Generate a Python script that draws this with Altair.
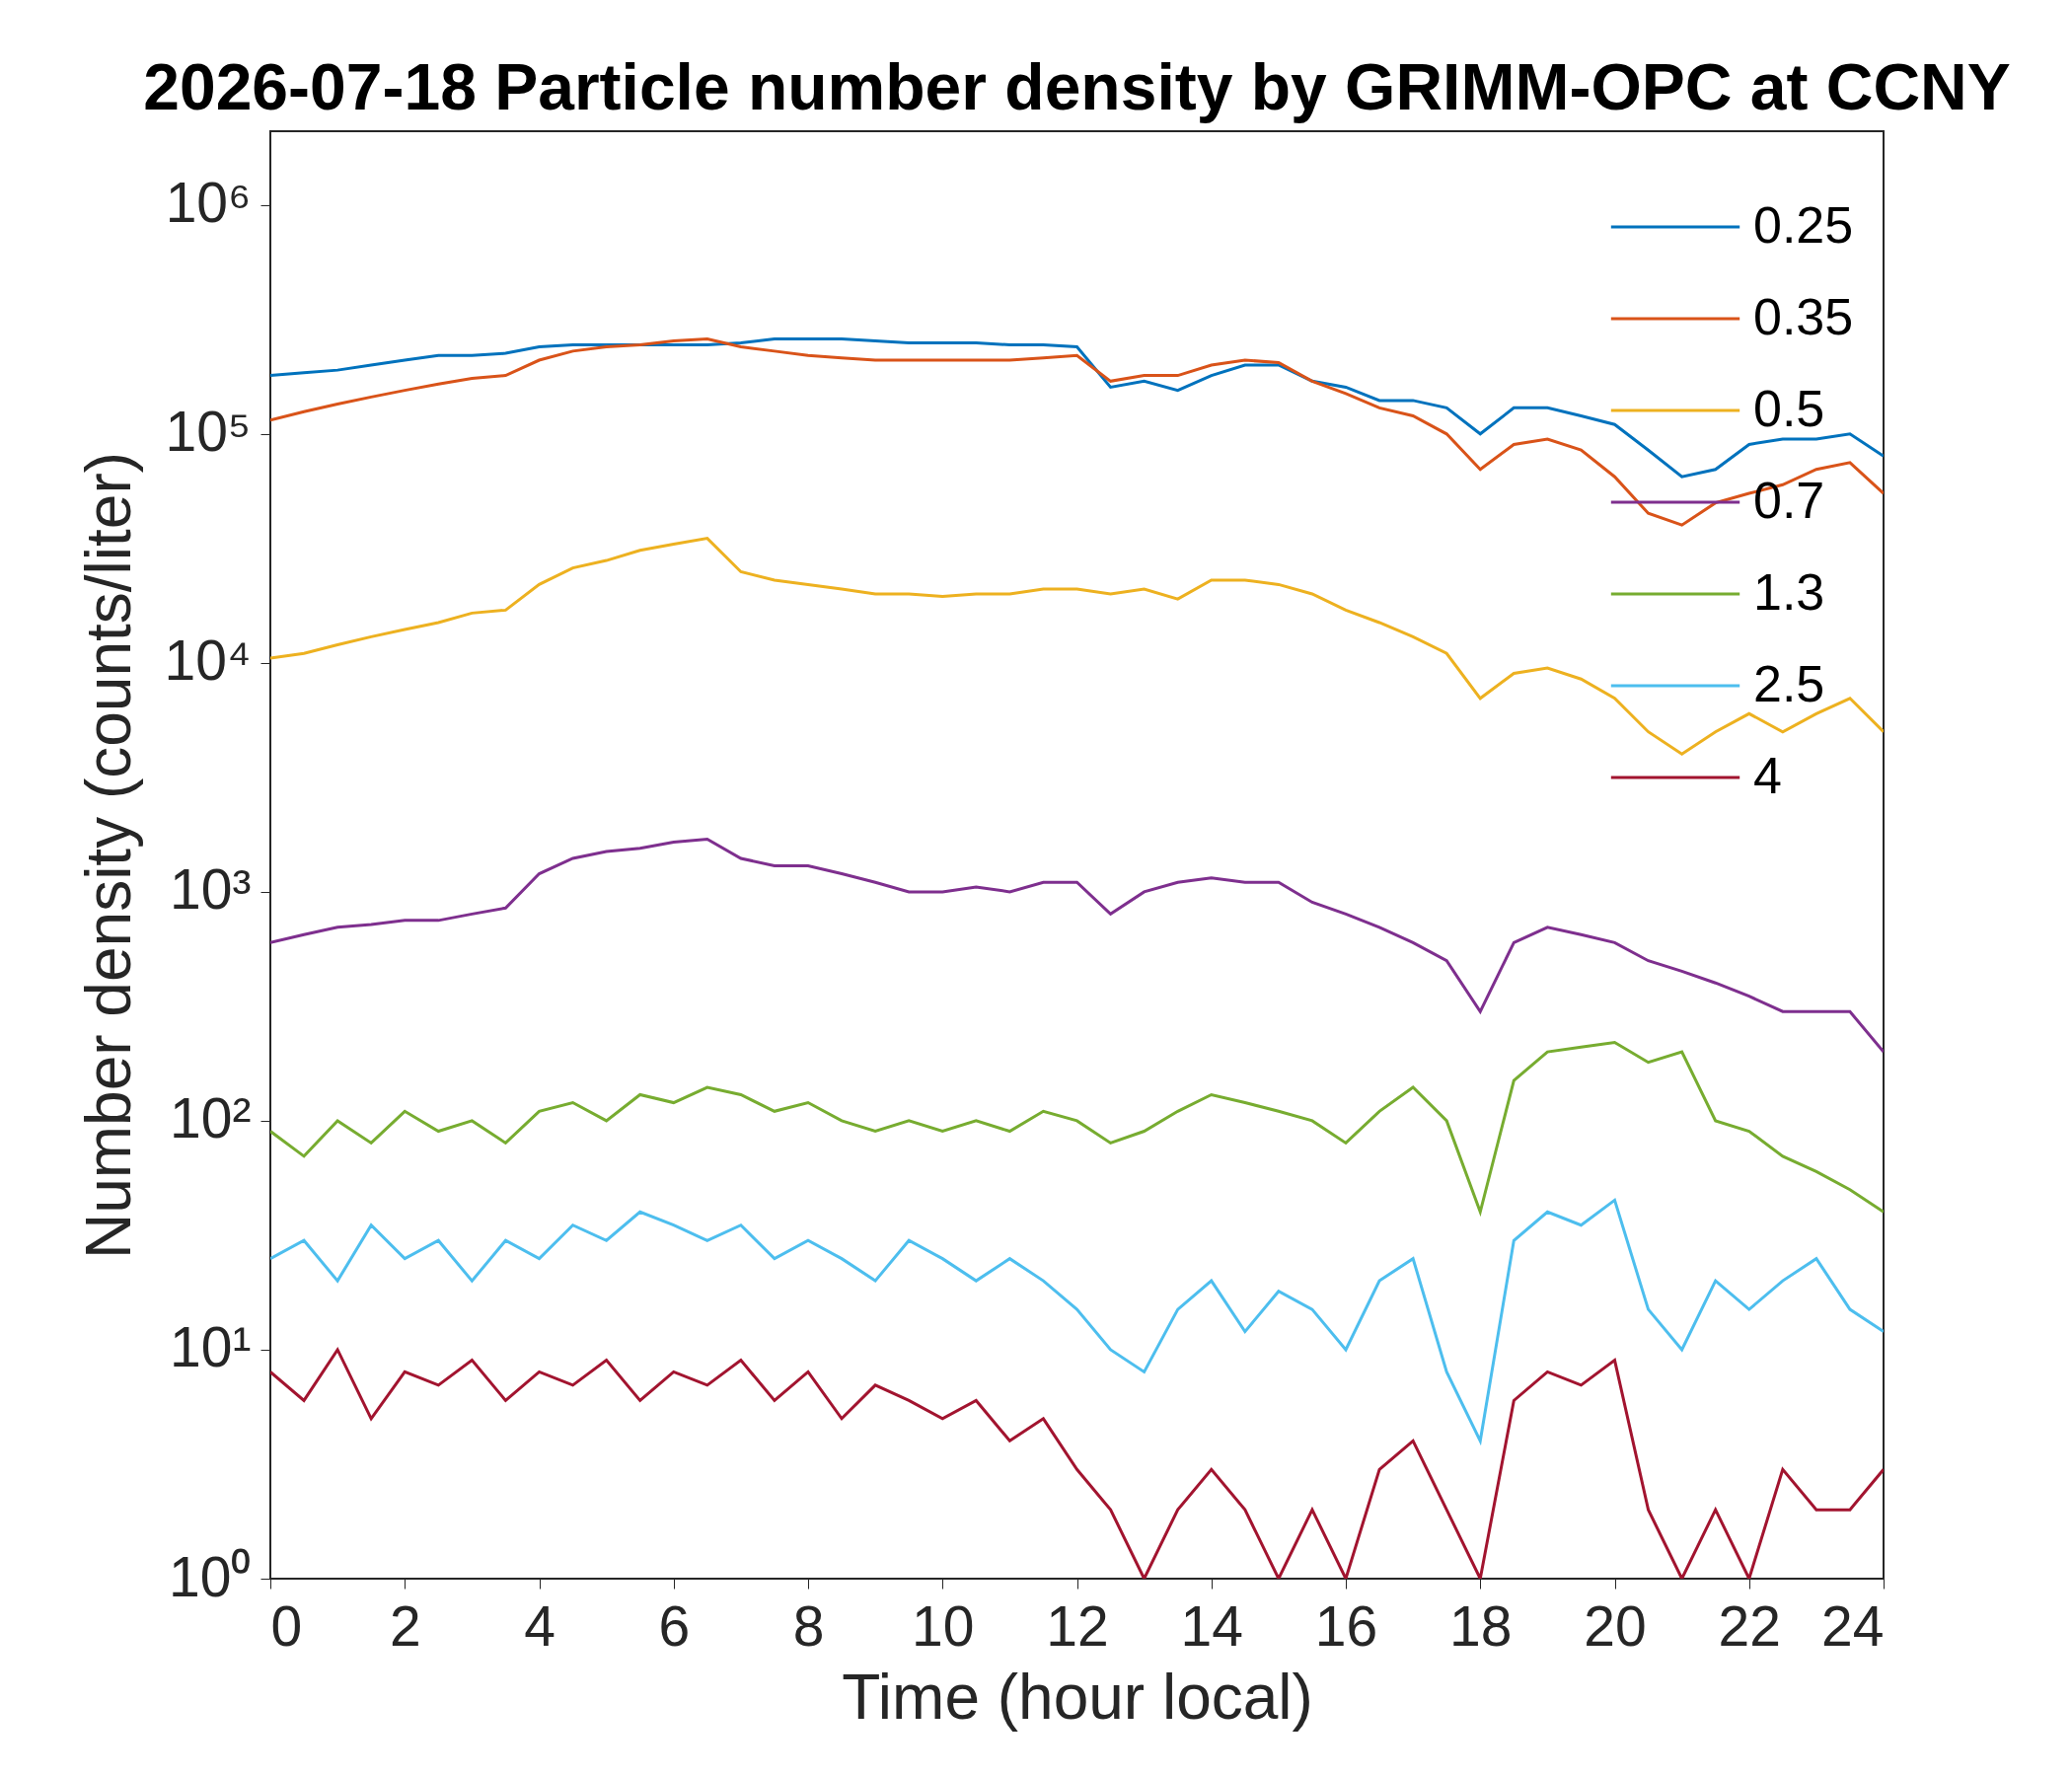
import altair as alt
import pandas as pd

hours = [i * 0.5 for i in range(49)]
labels = ["0.25", "0.35", "0.5", "0.7", "1.3", "2.5", "4"]
colors = ["#0072BD", "#D95319", "#EDB120", "#7E2F8E", "#77AC30", "#4DBEEE", "#A2142F"]

s025 = [x * 1e5 for x in [1.8,1.85,1.9,2.0,2.1,2.2,2.2,2.25,2.4,2.45,2.45,2.45,2.45,2.45,2.5,2.6,2.6,2.6,2.55,2.5,2.5,2.5,2.45,2.45,2.4,1.6,1.7,1.55,1.8,2.0,2.0,1.7,1.6,1.4,1.4,1.3,1.0,1.3,1.3,1.2,1.1,0.85,0.65,0.7,0.9,0.95,0.95,1.0,0.8]]
s035 = [x * 1e5 for x in [1.15,1.25,1.35,1.45,1.55,1.65,1.75,1.8,2.1,2.3,2.4,2.45,2.55,2.6,2.4,2.3,2.2,2.15,2.1,2.1,2.1,2.1,2.1,2.15,2.2,1.7,1.8,1.8,2.0,2.1,2.05,1.7,1.5,1.3,1.2,1.0,0.7,0.9,0.95,0.85,0.65,0.45,0.4,0.5,0.55,0.6,0.7,0.75,0.55]]
s05 = [x * 1e3 for x in [10.5,11,12,13,14,15,16.5,17,22,26,28,31,33,35,25,23,22,21,20,20,19.5,20,20,21,21,20,21,19,23,23,22,20,17,15,13,11,7,9,9.5,8.5,7,5,4,5,6,5,6,7,5]]
s07 = [600,650,700,720,750,750,800,850,1200,1400,1500,1550,1650,1700,1400,1300,1300,1200,1100,1000,1000,1050,1000,1100,1100,800,1000,1100,1150,1100,1100,900,800,700,600,500,300,600,700,650,600,500,450,400,350,300,300,300,200]
s13 = [90,70,100,80,110,90,100,80,110,120,100,130,120,140,130,110,120,100,90,100,90,100,90,110,100,80,90,110,130,120,110,100,80,110,140,100,40,150,200,210,220,180,200,100,90,70,60,50,40]
s25 = [25,30,20,35,25,30,20,30,25,35,30,40,35,30,35,25,30,25,20,30,25,20,25,20,15,10,8,15,20,12,18,15,10,20,25,8,4,30,40,35,45,15,10,20,15,20,25,15,12]
s4 = [8,6,10,5,8,7,9,6,8,7,9,6,8,7,9,6,8,5,7,6,5,6,4,5,3,2,1,2,3,2,1,2,1,3,4,2,1,6,8,7,9,2,1,2,1,3,2,2,3]

series = [s025, s035, s05, s07, s13, s25, s4]
rows = []
for lab, vals in zip(labels, series):
    for h, v in zip(hours, vals):
        rows.append({"t": h, "v": v, "size": lab})
df = pd.DataFrame(rows)

chart = alt.Chart(df).mark_line(strokeWidth=3, clip=True).encode(
    x=alt.X("t:Q", title="Time (hour local)",
            scale=alt.Scale(domain=[0, 24], nice=False),
            axis=alt.Axis(values=list(range(0, 25, 2)), grid=False, tickSize=10,
                          labelFontSize=57, titleFontSize=64, titleFontWeight="normal",
                          labelPadding=12, titlePadding=12)),
    y=alt.Y("v:Q", title="Number density (counts/liter)",
            scale=alt.Scale(type="log", domain=[1, 2.1e6], nice=False),
            axis=alt.Axis(values=[1, 10, 100, 1000, 1e4, 1e5, 1e6], grid=False, tickSize=10,
                          labelExpr="'10' + ['⁰','¹','²','³','⁴','⁵','⁶'][round(log(datum.value)/log(10))]",
                          labelFontSize=57, titleFontSize=64, titleFontWeight="normal",
                          labelPadding=10, titlePadding=22)),
    color=alt.Color("size:N", sort=labels,
                    scale=alt.Scale(domain=labels, range=colors),
                    legend=alt.Legend(title=None, orient="top-right", labelFontSize=52,
                                      symbolType="stroke", symbolSize=17000, symbolStrokeWidth=3,
                                      labelOffset=12, rowPadding=-28, offset=30,
                                      fillColor="transparent")),
).properties(
    width=1635, height=1467,
    padding={"left": 72, "top": 50, "right": 20, "bottom": 10},
    title=alt.TitleParams("2026-07-18 Particle number density by GRIMM-OPC at CCNY",
                          fontSize=66, fontWeight="bold", color="black", offset=8),
).configure_view(stroke="#262626", strokeWidth=2).configure_axis(
    domainColor="#262626", tickColor="#262626", labelColor="#262626", titleColor="#262626",
    labelFont="Liberation Sans", titleFont="Liberation Sans"
).configure_legend(labelFont="Liberation Sans").configure_title(font="Liberation Sans")

chart.save("out.html", embed_options={"renderer": "svg", "actions": False})
